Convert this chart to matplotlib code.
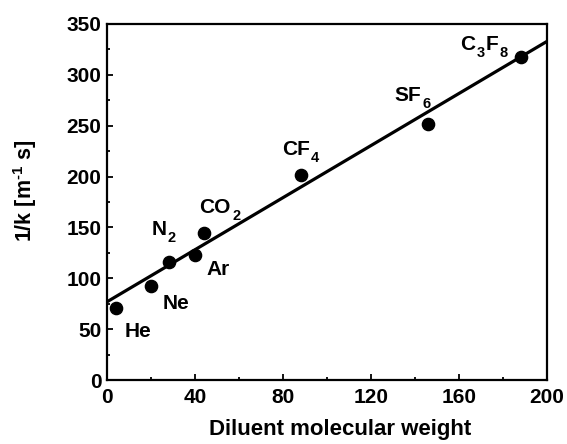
import matplotlib
matplotlib.use("Agg")
import matplotlib.pyplot as plt
from matplotlib.ticker import MultipleLocator
from matplotlib.transforms import offset_copy

plt.rcParams['font.family'] = ['Liberation Sans']
plt.rcParams['font.weight'] = 'bold'
plt.rcParams['mathtext.fontset'] = 'custom'
plt.rcParams['mathtext.rm'] = 'Liberation Sans:bold'
plt.rcParams['mathtext.it'] = 'Liberation Sans:bold'
plt.rcParams['mathtext.bf'] = 'Liberation Sans:bold'
plt.rcParams['mathtext.default'] = 'rm'

# data
gases = [[('He', 0)], [('Ne', 0)], [('N', 0), ('2', 1)], [('Ar', 0)],
         [('CO', 0), ('2', 1)], [('CF', 0), ('4', 1)], [('SF', 0), ('6', 1)],
         [('C', 0), ('3', 1), ('F', 0), ('8', 1)]]
mol_weight = [4, 20, 28, 40, 44, 88, 146, 188]
inv_k = [70.5, 92, 116, 123, 145, 201.5, 252, 318]
label_x = [8, 25, 20, 45, 42, 79.5, 130.5, 160.5]
label_y = [42, 70, 143, 103, 164, 221, 274, 324]
fit_x = [0, 200]
fit_y = [77, 333]

BASE = 15
SUB = 10.5
DROP = 5.0

fig = plt.figure(figsize=(5.67, 4.44), dpi=100)
ax = fig.add_axes([0.189, 0.144, 0.776, 0.802])

ax.plot(fit_x, fit_y, color='black', lw=2.3, zorder=2)
ax.plot(mol_weight, inv_k, 'o', color='black', ms=8.8, zorder=3)

ax.set_xlim(0, 200)
ax.set_ylim(0, 350)

renderer = fig.canvas.get_renderer()
for segs, lx, ly in zip(gases, label_x, label_y):
    xoff = 0.0
    for txt, sub in segs:
        tr = offset_copy(ax.transData, fig=fig, x=xoff, y=-DROP if sub else 0,
                         units='points')
        t = ax.text(lx, ly, txt, transform=tr, ha='left', va='baseline',
                    fontsize=SUB if sub else BASE, fontweight='bold')
        w = t.get_window_extent(renderer).width * 72.0 / fig.dpi
        xoff += w + (0.6 if sub else 0.8)

ax.xaxis.set_major_locator(MultipleLocator(40))
ax.xaxis.set_minor_locator(MultipleLocator(20))
ax.yaxis.set_major_locator(MultipleLocator(50))
ax.yaxis.set_minor_locator(MultipleLocator(25))
ax.tick_params(which='both', direction='in', top=False, right=False, width=1.3,
               labelsize=BASE)
ax.tick_params(axis='x', which='major', length=4.5, pad=6)
ax.tick_params(axis='y', which='major', length=4.5, pad=4)
ax.tick_params(which='minor', length=2.5)
for s in ax.spines.values():
    s.set_linewidth(1.6)

ax.set_xlabel('Diluent molecular weight', fontsize=16, fontweight='bold')
ax.xaxis.set_label_coords(0.53, -0.108)
ax.set_ylabel(r'1/k [m$^{\text{-1}}$ s]', fontsize=15.5, fontweight='bold')
ax.yaxis.set_label_coords(-0.155, 0.53)

fig.savefig('out.png', dpi=100)
